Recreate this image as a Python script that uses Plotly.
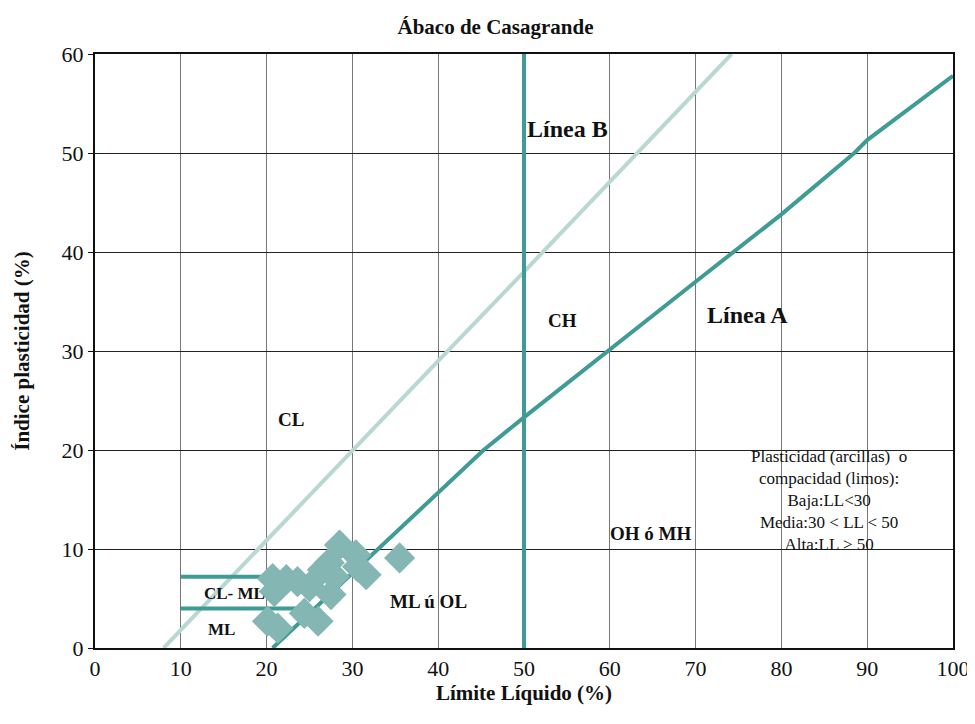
import plotly.graph_objects as go

# Sample points (Límite Líquido, Índice de plasticidad)
ll_samples = [28.5, 35.5, 30.4, 20.7, 20.9, 22.3, 23.6, 25.0, 26.5, 27.3, 27.9, 27.5, 30.6, 31.6, 20.1, 21.3, 24.4, 26.0]
pi_samples = [10.4, 9.1, 9.4, 7.0, 5.7, 6.9, 6.7, 6.2, 7.9, 8.6, 7.2, 5.4, 8.2, 7.4, 2.7, 2.0, 3.5, 2.7]

# Línea A
ll_line_a = [20.7, 45.3, 50, 60, 70, 80, 88.5, 90, 100]
pi_line_a = [0, 20, 23.3, 30.2, 37.0, 43.8, 50, 51.3, 57.8]

# Línea U (light)
ll_line_u = [8, 30, 40, 50, 74.2]
pi_line_u = [0, 20.0, 29.0, 38.0, 60]

# Línea B
ll_line_b = [50, 50]
pi_line_b = [0, 60]

# CL-ML band limits
ll_band = [10, 25]
pi_band_top = [7.2, 7.2]
pi_band_low = [4.0, 4.0]

x_ticks = [0, 10, 20, 30, 40, 50, 60, 70, 80, 90, 100]
y_ticks = [0, 10, 20, 30, 40, 50, 60]

teal = "#3f9c94"
light = "#b9d8d4"
marker_col = "#84b6b3"
font = "Liberation Serif"

fig = go.Figure()
fig.add_trace(go.Scatter(x=ll_line_u, y=pi_line_u, mode="lines", line=dict(color=light, width=4), hoverinfo="skip"))
fig.add_trace(go.Scatter(x=ll_band, y=pi_band_top, mode="lines", line=dict(color=teal, width=4), hoverinfo="skip"))
fig.add_trace(go.Scatter(x=ll_band, y=pi_band_low, mode="lines", line=dict(color=teal, width=4), hoverinfo="skip"))
fig.add_trace(go.Scatter(x=ll_line_a, y=pi_line_a, mode="lines", line=dict(color=teal, width=4), hoverinfo="skip"))
fig.add_trace(go.Scatter(x=ll_line_b, y=pi_line_b, mode="lines", line=dict(color=teal, width=4), hoverinfo="skip"))
fig.add_trace(go.Scatter(x=ll_samples, y=pi_samples, mode="markers",
                         marker=dict(symbol="diamond", size=24, color=marker_col, line=dict(width=0))))

annots = [
    dict(x=55.1, y=52.4, text="<b>Línea B</b>", size=24),
    dict(x=76.1, y=33.6, text="<b>Línea A</b>", size=24),
    dict(x=54.5, y=33.1, text="<b>CH</b>", size=19),
    dict(x=22.8, y=23.1, text="<b>CL</b>", size=19),
    dict(x=64.8, y=11.6, text="<b>OH ó MH</b>", size=19),
    dict(x=38.9, y=4.7, text="<b>ML ú OL</b>", size=19),
    dict(x=16.2, y=5.5, text="<b>CL- ML</b>", size=17),
    dict(x=14.8, y=1.9, text="<b>ML</b>", size=17),
]
anns = []
for a in annots:
    anns.append(dict(x=a["x"], y=a["y"], xref="x", yref="y", text=a["text"], showarrow=False,
                     font=dict(family=font, size=a["size"], color="#111")))
anns.append(dict(x=85.5, y=14.9, xref="x", yref="y", showarrow=False,
                 text="Plasticidad (arcillas)  o<br>compacidad (limos):<br>Baja:LL&lt;30<br>Media:30 &lt; LL &lt; 50<br>Alta:LL &gt; 50",
                 font=dict(family=font, size=17, color="#111"), align="center"))

fig.update_layout(
    width=975, height=724,
    margin=dict(l=87, r=30, t=46, b=84),
    paper_bgcolor="white", plot_bgcolor="white",
    showlegend=False,
    title=dict(text="<b>Ábaco de Casagrande</b>", x=0.5, xanchor="center", y=0.974, yanchor="middle",
               font=dict(family=font, size=21, color="#111")),
    annotations=anns,
    font=dict(family=font, color="#111"),
)
fig.update_xaxes(range=[0, 100], tickvals=x_ticks, showgrid=True, gridcolor="#777", gridwidth=1,
                 showline=True, linecolor="#111", linewidth=2, mirror=True, ticks="", zeroline=False,
                 tickfont=dict(family=font, size=22, color="#111"),
                 title=dict(text="<b>Límite Líquido (%)</b>", font=dict(family=font, size=21, color="#111"), standoff=1))
fig.update_yaxes(range=[0, 60], tickvals=y_ticks, showgrid=True, gridcolor="#222", gridwidth=1,
                 showline=True, linecolor="#111", linewidth=2, mirror=True, ticks="outside", ticklen=5,
                 tickcolor="#111", zeroline=False,
                 tickfont=dict(family=font, size=22, color="#111"),
                 title=dict(text="<b>Índice plasticidad (%)</b>", font=dict(family=font, size=21, color="#111"), standoff=26))

fig.write_html("out.html")
